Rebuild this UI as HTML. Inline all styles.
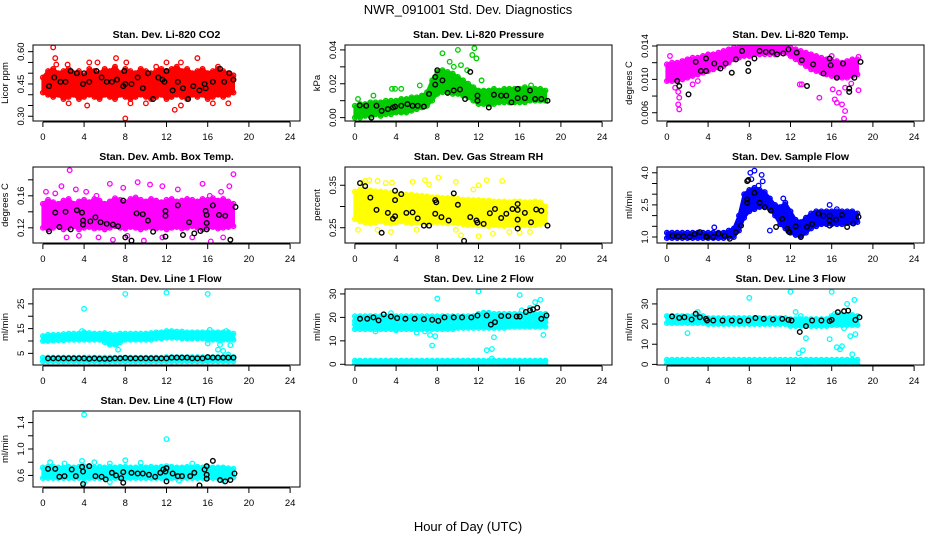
<!DOCTYPE html>
<html><head><meta charset="utf-8">
<style>
body{margin:0;background:#fff;}
svg{display:block;font-family:"Liberation Sans",sans-serif;}
</style></head>
<body>
<svg id="chart" width="936" height="540" viewBox="0 0 936 540">
<rect width="936" height="540" fill="#fff"/>
<text x="468" y="14" font-size="13" text-anchor="middle">NWR_091001  Std. Dev. Diagnostics</text>
<text x="468" y="531" font-size="13" text-anchor="middle">Hour of Day (UTC)</text>
</svg>
<script>
const H=[0,0.5,1,1.5,2,2.5,3,3.5,4,4.5,5,5.5,6,6.5,7,7.5,8,8.5,9,9.5,10,10.5,11,11.5,12,12.5,13,13.5,14,14.5,15,15.5,16,16.5,17,17.5,18,18.5];
const xTicks=[0,4,8,12,16,20,24];

// Panel 1: CO2
const lo1=[0.41,0.40,0.39,0.40,0.38,0.39,0.40,0.38,0.39,0.40,0.39,0.38,0.40,0.39,0.38,0.40,0.39,0.38,0.39,0.40,0.39,0.38,0.39,0.40,0.38,0.39,0.40,0.39,0.38,0.40,0.39,0.40,0.38,0.39,0.40,0.39,0.40,0.41];
const hi1=[0.48,0.51,0.52,0.50,0.51,0.52,0.50,0.51,0.49,0.52,0.51,0.50,0.52,0.51,0.53,0.50,0.52,0.51,0.50,0.52,0.51,0.50,0.51,0.52,0.51,0.52,0.53,0.51,0.52,0.50,0.51,0.52,0.50,0.51,0.52,0.51,0.50,0.49];
const ox1=[1,1.2,1.3,2.4,4.5,5.3,7.1,8.1,8,12.8,13.4,15,12,2.5,4.3,8.5,10,13.4,16.5,18,11,17];
const oy1=[0.62,0.57,0.54,0.54,0.55,0.55,0.57,0.55,0.29,0.33,0.55,0.57,0.55,0.36,0.35,0.36,0.36,0.35,0.36,0.36,0.53,0.53];
const bx1=[0.6,1.1,1.7,2.2,2.7,3.3,3.9,4.0,4.5,5.2,5.7,6.2,6.7,7.2,7.8,7.9,8.0,8.6,9.2,9.7,10.2,10.7,11.2,11.6,11.8,12.0,12.6,13.1,13.6,14.1,14.6,15.2,15.7,15.8,16.5,17.2,17.6,18.1,18.5];
const by1=[0.44,0.48,0.46,0.46,0.51,0.50,0.45,0.50,0.46,0.51,0.48,0.46,0.46,0.47,0.44,0.51,0.45,0.45,0.48,0.43,0.50,0.38,0.48,0.47,0.46,0.51,0.42,0.46,0.43,0.38,0.44,0.42,0.45,0.43,0.46,0.52,0.46,0.50,0.47];

// Panel 2: Pressure
const lo2=[0.000,0.000,0.001,0.001,0.002,0.001,0.002,0.002,0.003,0.003,0.003,0.004,0.005,0.006,0.007,0.010,0.014,0.015,0.015,0.014,0.014,0.013,0.012,0.010,0.008,0.008,0.008,0.008,0.009,0.009,0.009,0.009,0.009,0.009,0.010,0.010,0.010,0.010];
const hi2=[0.007,0.008,0.008,0.009,0.009,0.009,0.010,0.010,0.010,0.011,0.011,0.012,0.012,0.013,0.015,0.022,0.027,0.028,0.027,0.026,0.024,0.022,0.020,0.018,0.016,0.016,0.016,0.017,0.016,0.017,0.017,0.017,0.017,0.018,0.017,0.017,0.017,0.016];
const ox2=[0.3,1.8,3.6,3.9,4.5,6.3,7.5,7.8,8.1,8.5,9.2,10.0,10.3,11.4,11.6,11.8,12.3,9.6,10.9,17.1];
const oy2=[0.011,0.013,0.017,0.017,0.017,0.019,0.020,0.024,0.027,0.038,0.033,0.040,0.031,0.037,0.041,0.035,0.022,0.030,0.028,0.019];
const bx2=[0.47,1.1,1.6,2.1,2.6,3.2,3.7,3.9,4.5,5.1,5.6,6.1,6.7,7.2,7.8,7.8,8.0,8.5,9.0,9.6,10.2,10.7,11.2,11.9,11.9,13.0,13.5,14.2,14.7,15.2,15.8,15.8,16.5,17.0,17.5,18.1,18.7];
const by2=[0.0072,0.007,0.000,0.007,0.004,0.005,0.006,0.0065,0.007,0.008,0.007,0.007,0.0065,0.014,0.024,0.0195,0.028,0.022,0.0146,0.016,0.0166,0.011,0.027,0.013,0.010,0.006,0.0135,0.013,0.013,0.009,0.017,0.0115,0.0115,0.016,0.011,0.011,0.010];

// Panel 3: Li-820 Temp
const lo3=[0.0098,0.0098,0.0100,0.0100,0.0102,0.0104,0.0106,0.0108,0.0110,0.0112,0.0114,0.0116,0.0120,0.0124,0.0126,0.0128,0.0128,0.0130,0.0130,0.0130,0.0130,0.0130,0.0132,0.0132,0.0128,0.0124,0.0120,0.0116,0.0112,0.0110,0.0108,0.0106,0.0104,0.0102,0.0102,0.0102,0.0104,0.0106];
const hi3=[0.0118,0.0120,0.0120,0.0122,0.0124,0.0126,0.0126,0.0128,0.0130,0.0130,0.0132,0.0134,0.0136,0.0138,0.0138,0.0140,0.0140,0.0140,0.0140,0.0140,0.0140,0.0140,0.0140,0.0140,0.0138,0.0136,0.0134,0.0132,0.0130,0.0128,0.0126,0.0124,0.0122,0.0122,0.0120,0.0122,0.0124,0.0124];
const ox3=[0.3,1.1,1.2,1.1,1.2,0.8,2.5,3.0,4.0,12.9,13.1,14.8,16.1,16.3,16.7,17.0,17.3,16.5,17.3,17.2,17.9,18.6,18.6,16.0,15.8];
const oy3=[0.0128,0.0085,0.0078,0.0070,0.0064,0.0090,0.0094,0.0098,0.0120,0.0094,0.0094,0.0078,0.0088,0.0076,0.0084,0.0070,0.0090,0.0072,0.0062,0.0053,0.0095,0.0127,0.0087,0.0128,0.0118];
const bx3=[1.0,1.2,2.1,2.8,3.3,3.8,3.8,4.6,5.2,5.7,6.3,6.7,7.3,7.9,7.9,8.5,9.0,9.6,10.2,10.7,11.3,11.8,12.6,13.1,13.6,14.2,15.2,15.8,15.9,16.5,17.1,17.7,17.7,18.2,18.8];
const by3=[0.0098,0.0092,0.0082,0.0121,0.0110,0.0125,0.0110,0.0119,0.0113,0.0119,0.0108,0.0124,0.0134,0.0119,0.0110,0.0125,0.0134,0.0133,0.0133,0.0130,0.0131,0.0136,0.0132,0.0123,0.0092,0.0118,0.0107,0.0125,0.0117,0.0102,0.0119,0.0089,0.0085,0.0102,0.0121];

// Panel 4: Amb. Box Temp
const lo4=[0.120,0.118,0.120,0.122,0.118,0.120,0.122,0.118,0.120,0.121,0.119,0.120,0.118,0.120,0.122,0.120,0.119,0.121,0.120,0.118,0.120,0.121,0.119,0.120,0.118,0.120,0.121,0.119,0.120,0.122,0.120,0.118,0.120,0.121,0.119,0.120,0.121,0.122];
const hi4=[0.150,0.155,0.152,0.150,0.154,0.156,0.150,0.153,0.155,0.152,0.156,0.154,0.150,0.153,0.157,0.155,0.152,0.156,0.158,0.155,0.153,0.156,0.154,0.152,0.155,0.156,0.153,0.154,0.156,0.155,0.153,0.156,0.155,0.157,0.154,0.156,0.153,0.150];
const ox4=[0.3,1.2,2.6,1.8,3.2,4.2,5.2,6.5,7.8,9.2,10.4,11.6,13.1,15.5,16.2,18.1,18.5,17.3,3.5,5.4,6.8,8.2,9.8,11.6,14.5,16.3,17.5,2.3];
const oy4=[0.165,0.163,0.192,0.172,0.168,0.165,0.160,0.175,0.170,0.177,0.174,0.172,0.168,0.175,0.160,0.172,0.187,0.165,0.110,0.108,0.105,0.110,0.104,0.108,0.108,0.103,0.108,0.108];
const bx4=[0.6,1.2,1.6,2.2,2.7,3.3,3.8,3.9,3.9,4.6,5.1,5.6,6.2,6.8,7.3,7.8,8.0,8.6,9.1,9.7,10.2,10.7,11.9,11.9,11.9,13.1,13.6,14.2,14.7,15.3,15.8,15.9,15.9,15.9,16.5,17.1,17.7,18.2,18.7];
const by4=[0.1155,0.139,0.121,0.140,0.118,0.142,0.139,0.129,0.124,0.128,0.133,0.127,0.125,0.124,0.122,0.154,0.108,0.104,0.138,0.137,0.129,0.115,0.141,0.135,0.109,0.148,0.111,0.127,0.113,0.116,0.141,0.136,0.126,0.118,0.148,0.136,0.135,0.105,0.146];

// Panel 5: Gas Stream RH
const lo5=[0.270,0.265,0.262,0.260,0.262,0.265,0.262,0.260,0.262,0.265,0.262,0.260,0.262,0.262,0.260,0.262,0.263,0.262,0.260,0.262,0.260,0.258,0.256,0.258,0.256,0.255,0.254,0.256,0.255,0.254,0.256,0.255,0.254,0.256,0.255,0.256,0.258,0.260];
const hi5=[0.335,0.340,0.340,0.338,0.336,0.335,0.334,0.332,0.330,0.330,0.328,0.328,0.326,0.325,0.324,0.322,0.322,0.320,0.320,0.320,0.318,0.316,0.316,0.315,0.315,0.314,0.314,0.312,0.312,0.312,0.310,0.312,0.312,0.310,0.310,0.312,0.310,0.300];
const ox5=[0.3,0.8,1.0,1.4,2.2,3.0,3.6,5.6,6.8,7.2,8.1,9.8,12.0,12.8,14.3,11.5,2.2,3.5,6.0,9.8,10.3,13.4,15.0,16.0,17.0,12.0,18.5];
const oy5=[0.245,0.355,0.360,0.362,0.360,0.355,0.356,0.358,0.362,0.352,0.368,0.358,0.350,0.362,0.360,0.340,0.245,0.240,0.245,0.245,0.232,0.236,0.240,0.238,0.240,0.230,0.285];
const bx5=[0.5,1.0,1.5,2.1,2.6,3.2,3.7,3.9,3.9,3.9,4.5,5.0,5.6,6.1,6.7,7.2,7.8,7.8,7.9,8.4,9.1,9.6,10.0,10.6,11.2,11.8,11.9,12.5,13.1,13.6,14.2,14.7,15.3,15.8,15.8,15.8,15.8,16.5,17.1,17.6,18.1,18.7];
const by5=[0.355,0.348,0.321,0.292,0.238,0.285,0.271,0.277,0.337,0.315,0.329,0.285,0.286,0.272,0.255,0.255,0.315,0.283,0.310,0.275,0.267,0.331,0.304,0.219,0.275,0.267,0.262,0.259,0.284,0.294,0.273,0.283,0.294,0.292,0.306,0.269,0.248,0.285,0.263,0.293,0.290,0.255];

// Panel 6: Sample Flow
const lo6=[0.95,0.95,0.95,0.95,0.95,0.95,0.95,0.95,0.95,0.95,0.95,0.95,1.00,1.00,1.30,1.90,2.20,2.30,2.40,2.40,2.30,2.00,1.60,1.40,1.20,1.10,1.00,1.20,1.40,1.50,1.60,1.60,1.60,1.60,1.60,1.65,1.65,1.70];
const hi6=[1.20,1.20,1.20,1.20,1.20,1.20,1.20,1.20,1.20,1.20,1.20,1.20,1.30,1.40,2.00,3.00,3.20,3.30,3.20,3.10,2.80,2.50,2.40,2.60,2.20,1.80,1.70,1.90,2.10,2.20,2.20,2.20,2.20,2.20,2.20,2.20,2.20,2.10];
const ox6=[8.1,8.5,8.2,9.2,9.3,8.9,7.8,11.3,15.8,4.6,16.5,10.0,12.5];
const oy6=[4.0,4.1,3.7,3.9,3.6,3.4,2.8,2.8,2.5,1.45,2.3,1.3,1.1];
const bx6=[0.55,1.1,1.6,2.2,2.7,3.2,3.8,3.9,4.5,5.0,5.6,6.1,6.7,7.2,7.8,7.8,7.8,7.9,8.5,9.0,9.5,10.1,10.6,11.2,11.7,11.8,11.9,12.5,13.0,13.6,14.1,14.7,15.2,15.8,15.8,15.8,16.4,17.0,17.5,18.1,18.6];
const by6=[1.06,1.03,1.03,1.0,1.14,1.23,1.03,1.0,1.0,1.16,1.06,0.92,1.22,1.53,2.75,2.6,3.61,3.66,3.06,2.6,2.39,2.23,1.47,1.84,1.38,1.27,1.22,1.5,1.0,1.47,1.61,2.09,2.0,2.0,1.78,1.53,1.81,2.03,1.47,1.63,1.94];

// Panel 7: Line 1 Flow
const lo7=[10.0,10.0,10.2,10.3,10.3,10.5,10.5,10.5,10.5,10.5,10.5,10.5,9.5,8.5,8.5,9.5,10.5,10.5,10.5,10.5,10.5,10.5,11.0,11.0,11.3,11.3,11.3,11.0,11.0,11.0,11.0,11.0,10.5,10.5,10.5,10.5,10.5,10.5];
const hi7=[12.0,12.5,12.5,12.5,12.8,13.0,13.0,13.0,13.5,13.2,13.0,13.0,13.2,12.8,12.5,13.0,13.0,13.0,13.0,13.0,13.0,13.2,13.5,13.5,14.0,14.0,13.8,13.8,13.5,13.5,13.5,13.5,13.5,13.5,13.5,13.5,13.5,13.0];
const lo7b=[1.8,1.8,1.8,1.8,1.8,1.8,1.8,1.8,1.8,1.8,1.8,1.8,1.8,1.8,1.8,1.8,1.8,1.8,1.8,1.8,1.8,1.8,1.8,1.8,1.8,1.8,1.8,1.8,1.8,1.8,1.8,1.8,1.8,1.8,1.8,1.8,1.8,1.8];
const hi7b=[3.3,3.3,3.3,3.3,3.3,3.3,3.3,3.3,3.3,3.3,3.3,3.3,3.3,3.3,3.3,3.3,3.3,3.3,3.3,3.3,3.3,3.3,3.3,3.3,3.5,3.5,3.5,3.5,3.5,3.5,3.5,3.5,3.5,3.5,3.5,3.5,3.5,3.5];
const ox7=[4,8,12,16,7.3,7.1,6.8,16.0,17.0,17.2,17.5,18,18.2,17.8,16.2,3.8];
const oy7=[23.0,29.0,29.5,29.0,6.5,8.5,9.5,9.0,6.5,8.5,6.0,4.5,8.3,14.0,14.5,14.0];
const bx7=[0.5,1,1.5,2,2.5,3,3.5,4,4.5,5,5.5,6,6.5,7,7.5,8,8.5,9,9.5,10,10.5,11,11.5,12,12.5,13,13.5,14,14.5,15,15.5,16,16.5,17,17.5,18,18.5];
const by7=[3,3,3,3,3,3,3,3,2.8,3,2.8,2.8,2.8,3,3,3.2,3,3,3,3,3,3,3,3,3.3,3.3,3.3,3.3,3,3,3,3.5,3.3,3.3,3.3,3.3,3.3];

// Panel 8: Line 2 Flow
const lo8a=[18.5,18.5,18.5,18.5,18.5,18.5,18.5,18.5,18.5,18.5,18.5,18.5,18.5,18.5,18.5,18.5,18.5,18.5,18.5,18.5,18.5,18.5,18.5,18.5,19,19,19,19,19,19,19.5,19.5,19.5,19.5,19.5,19.5,19.5,19.5];
const hi8a=[20.5,20.5,20.5,20.5,20.5,20.5,20.5,20.5,20.5,20.5,20.5,20.5,20.5,20.5,20.5,20.5,20.5,20.5,20.5,20.5,20.5,20.5,20.5,20.5,21.5,21.5,21.5,21.5,21.5,21.5,21.5,21.5,21.5,21.5,21.5,21.5,21.5,21.5];
const lo8b=[15,15,15,15,15,15,15,15,15,15,15,15,15,15,15,15,15,15,15,15,15.5,15.5,15.5,15.5,15.5,15.5,15.5,15.5,15.5,15.5,16,16,16,16,16,16,16,16];
const hi8b=[17,17,17,17,17,17,17,17,17,17,17,17,17,17,17,17,17,17,17,17,17.5,17.5,17.5,17.5,17.5,17.5,17.5,17.5,17.5,17.5,18,18,18,18,18,18,18,18];
const lo8c=[0.2,0.2,0.2,0.2,0.2,0.2,0.2,0.2,0.2,0.2,0.2,0.2,0.2,0.2,0.2,0.2,0.2,0.2,0.2,0.2,0.2,0.2,0.2,0.2,0.2,0.2,0.2,0.2,0.2,0.2,0.2,0.2,0.2,0.2,0.2,0.2,0.2,0.2];
const hi8c=[1.6,1.6,1.6,1.6,1.6,1.6,1.6,1.6,1.6,1.6,1.6,1.6,1.6,1.6,1.6,1.6,1.6,1.6,1.6,1.6,1.6,1.6,1.6,1.6,1.6,1.6,1.6,1.6,1.6,1.6,1.6,1.6,1.6,1.6,1.6,1.6,1.6,1.6];
const ox8=[3.5,8,12,16,18,17.5,17,18.3,7.5,7.3,7.8,6,6.8,2,4,12.8,13.3,13.5,16.2,12.5,13,13.3];
const oy8=[21.8,28,31,29.5,27.5,26.5,24,12.5,8,12.5,12,13.5,14,14,14.5,6,6.5,11.5,23,22,22,2.5];
const bx8=[0.5,1.2,1.8,2.3,2.8,3.5,4.1,4.9,5.8,6.7,7.5,8.1,8.7,9.6,10.4,11.3,11.9,12.8,13.2,13.6,14.2,14.9,15.7,16.0,16.6,17.0,17.3,17.7,18.1,18.6];
const by8=[19.4,19.4,20,18.7,21.3,20.4,19.7,19.4,19.4,19.2,19.0,18.5,20,20,20,20,20.8,20.8,16.9,18.0,20.6,20.6,20.4,20.4,22.3,23.0,23.4,24.1,19.4,20.8];

// Panel 9: Line 3 Flow
const lo9a=[20.5,20.5,20.5,20.5,20.5,20.5,20.5,20.5,20,20,20,20,20,20,20,20,20,20,20,20,20,20,20,20,19,19,19,19,19,19,19,19,19.5,19.5,19.5,19.5,19.5,19.5];
const hi9a=[24,24,24,24,24,24,24,24,23,23,23,23,23,23,23,23,23,23,23,23,23,23,23,23,22.5,22.5,22.5,22.5,22.5,22.5,22.5,22.5,24,24.5,24.5,24.5,24.5,24];
const lo9c=[0.2,0.2,0.2,0.2,0.2,0.2,0.2,0.2,0.2,0.2,0.2,0.2,0.2,0.2,0.2,0.2,0.2,0.2,0.2,0.2,0.2,0.2,0.2,0.2,0.2,0.2,0.2,0.2,0.2,0.2,0.2,0.2,0.2,0.2,0.2,0.2,0.2,0.2];
const hi9c=[2.3,2.3,2.3,2.3,2.3,2.3,2.3,2.3,2.3,2.3,2.3,2.3,2.3,2.3,2.3,2.3,2.3,2.3,2.3,2.3,2.3,2.3,2.3,2.3,2.3,2.3,2.3,2.3,2.3,2.3,2.3,2.3,2.3,2.3,2.3,2.3,2.3,2.3];
const ox9=[2,8,12,16,12.5,12.8,13.2,13.5,15.8,16.5,16.8,17,17.2,17.5,17.3,17.8,18.2,18.3,18,16.3,13,3];
const oy9=[15.5,33,36,36,26,5.5,7,13,12.5,8.5,7.5,9,18,30,20,14,32,15,5,25,24,26];
const bx9=[0.5,1.2,1.7,2.4,2.8,3.2,3.8,3.9,4.5,5.4,6.3,7.1,7.9,8.6,9.4,10.3,11.2,11.8,12.1,12.9,13.5,14.1,15.0,15.8,16.0,16.6,17.2,17.6,18.3,18.7];
const by9=[23.8,23.1,23.4,22.3,25.1,23.4,22.6,21.8,21.8,21.8,21.8,21.5,21.8,23,22.6,22.3,22.6,22.1,21.8,16.1,19.0,21.8,21.8,21.5,22.1,25.9,26.4,26.7,22.1,23.4];

// Panel 10: Line 4 (LT) Flow
const lo10=[0.56,0.56,0.56,0.56,0.56,0.56,0.56,0.56,0.56,0.56,0.56,0.56,0.56,0.56,0.56,0.56,0.56,0.56,0.56,0.56,0.56,0.56,0.56,0.56,0.56,0.56,0.56,0.56,0.56,0.56,0.56,0.56,0.56,0.56,0.56,0.56,0.56,0.57];
const hi10=[0.72,0.73,0.73,0.72,0.72,0.73,0.72,0.73,0.74,0.73,0.72,0.73,0.72,0.73,0.72,0.73,0.73,0.72,0.72,0.73,0.72,0.73,0.72,0.73,0.74,0.73,0.72,0.72,0.73,0.72,0.73,0.72,0.73,0.72,0.72,0.72,0.71,0.70];
const ox10=[4,12,0.7,2.1,3.8,5,8,6.5,9.5,4,6.5,13.2,17.5,14.5];
const oy10=[1.52,1.15,0.80,0.78,0.82,0.80,0.83,0.78,0.79,0.50,0.50,0.52,0.52,0.78];
const bx10=[0.5,1.2,1.6,2.1,2.8,3.2,3.8,3.9,3.9,4.5,5.1,5.7,6.1,6.7,7.1,7.6,7.8,7.8,8.6,9.2,9.7,10.3,10.9,11.4,11.7,11.9,12.0,12.0,12.6,13.1,13.5,14.3,14.7,15.2,15.7,15.9,15.9,15.9,16.5,17.2,17.7,18.2,18.6];
const by10=[0.70,0.70,0.58,0.59,0.69,0.59,0.73,0.66,0.47,0.74,0.59,0.58,0.54,0.64,0.60,0.56,0.65,0.49,0.64,0.63,0.63,0.61,0.58,0.64,0.69,0.66,0.71,0.51,0.63,0.59,0.59,0.59,0.64,0.45,0.69,0.74,0.61,0.55,0.82,0.53,0.51,0.53,0.63];

const panels=[
 {name:'co2',title:'Stan. Dev. Li-820 CO2',ylab:'Licor ppm',col:0,row:0,ylim:[0.278,0.631],ticks:[0.30,0.35,0.40,0.45,0.50,0.55,0.60],labels:['0.30','0.45','0.60'],labelVals:[0.30,0.45,0.60],color:'#ff0000',bands:[[lo1,hi1]],ox:ox1,oy:oy1,bx:bx1,by:by1},
 {name:'pressure',title:'Stan. Dev. Li-820 Pressure',ylab:'kPa',col:1,row:0,ylim:[-0.002,0.0429],ticks:[0,0.01,0.02,0.03,0.04],labels:['0.00','0.02','0.04'],labelVals:[0,0.02,0.04],color:'#00cc00',bands:[[lo2,hi2]],ox:ox2,oy:oy2,bx:bx2,by:by2},
 {name:'li820-temp',title:'Stan. Dev. Li-820 Temp.',ylab:'degrees C',col:2,row:0,ylim:[0.00501,0.01412],ticks:[0.006,0.008,0.010,0.012,0.014],labels:['0.006','0.010','0.014'],labelVals:[0.006,0.010,0.014],color:'#ff00ff',bands:[[lo3,hi3]],ox:ox3,oy:oy3,bx:bx3,by:by3},
 {name:'amb-box-temp',title:'Stan. Dev. Amb. Box Temp.',ylab:'degrees C',col:0,row:1,ylim:[0.101,0.196],ticks:[0.12,0.14,0.16,0.18],labels:['0.12','0.16'],labelVals:[0.12,0.16],color:'#ff00ff',bands:[[lo4,hi4]],ox:ox4,oy:oy4,bx:bx4,by:by4},
 {name:'gas-stream-rh',title:'Stan. Dev. Gas Stream RH',ylab:'percent',col:1,row:1,ylim:[0.214,0.393],ticks:[0.25,0.30,0.35],labels:['0.25','0.35'],labelVals:[0.25,0.35],color:'#ffff00',bands:[[lo5,hi5]],ox:ox5,oy:oy5,bx:bx5,by:by5},
 {name:'sample-flow',title:'Stan. Dev. Sample Flow',ylab:'ml/min',col:2,row:1,ylim:[0.72,4.27],ticks:[1,1.5,2,2.5,3,3.5,4],labels:['1.0','2.5','4.0'],labelVals:[1,2.5,4],color:'#0000ff',bands:[[lo6,hi6]],ox:ox6,oy:oy6,bx:bx6,by:by6},
 {name:'line1-flow',title:'Stan. Dev. Line 1 Flow',ylab:'ml/min',col:0,row:2,ylim:[0.3,31],ticks:[5,10,15,20,25],labels:['5','15','25'],labelVals:[5,15,25],color:'#00ffff',bands:[[lo7,hi7],[lo7b,hi7b]],ox:ox7,oy:oy7,bx:bx7,by:by7},
 {name:'line2-flow',title:'Stan. Dev. Line 2 Flow',ylab:'ml/min',col:1,row:2,ylim:[-0.3,32.1],ticks:[0,10,20,30],labels:['0','10','20','30'],labelVals:[0,10,20,30],color:'#00ffff',bands:[[lo8a,hi8a],[lo8b,hi8b],[lo8c,hi8c]],ox:ox8,oy:oy8,bx:bx8,by:by8},
 {name:'line3-flow',title:'Stan. Dev. Line 3 Flow',ylab:'ml/min',col:2,row:2,ylim:[-0.3,37.4],ticks:[0,10,20,30],labels:['0','10','20','30'],labelVals:[0,10,20,30],color:'#00ffff',bands:[[lo9a,hi9a],[lo9c,hi9c]],ox:ox9,oy:oy9,bx:bx9,by:by9},
 {name:'line4-flow',title:'Stan. Dev. Line 4 (LT) Flow',ylab:'ml/min',col:0,row:3,ylim:[0.425,1.575],ticks:[0.6,0.8,1.0,1.2,1.4],labels:['0.6','1.0','1.4'],labelVals:[0.6,1.0,1.4],color:'#00ffff',bands:[[lo10,hi10]],ox:ox10,oy:oy10,bx:bx10,by:by10}
];

const NS='http://www.w3.org/2000/svg';
const svg=document.getElementById('chart');
function mk(tag,attrs,parent){const e=document.createElementNS(NS,tag);for(const k in attrs)e.setAttribute(k,attrs[k]);(parent||svg).appendChild(e);return e;}

panels.forEach((p,i)=>{
 const L=33+312*p.col, T=45+122*p.row, W=267, Hh=76;
 const xs=h=>L+(h+0.96)/25.92*W;
 const ys=v=>T+Hh-(v-p.ylim[0])/(p.ylim[1]-p.ylim[0])*Hh;
 const g=mk('g',{});
 
 
 const cp=mk('clipPath',{id:'cp'+i},g);
 mk('rect',{x:L,y:T,width:W,height:Hh},cp);
 const t=mk('text',{x:L+W/2,y:T-7,'font-size':'10.5','font-weight':'bold','text-anchor':'middle'},g);
 t.textContent=p.title;
 
 
 const yl=mk('text',{transform:`translate(${L-25},${T+Hh/2}) rotate(-90)`,'font-size':'9.5','text-anchor':'middle'},g);
 yl.textContent=p.ylab;
 
 
 const dg=mk('g',{'clip-path':`url(#cp${i})`},g);
 
 
 p.bands.forEach(b=>{
  const lo=b[0],hi=b[1];
  let d='M'+H.map((h,j)=>xs(h).toFixed(1)+','+ys(hi[j]).toFixed(1)).join('L');
  d+='L'+H.map((h,j)=>xs(h).toFixed(1)+','+ys(lo[j]).toFixed(1)).reverse().join('L')+'Z';
  const band=mk('path',{d:d,fill:p.color,stroke:p.color,'stroke-width':3,'stroke-linejoin':'round'},dg);
  
  
  H.forEach((h,j)=>{
   [lo[j],hi[j]].forEach(v=>{
    const c=mk('circle',{cx:xs(h),cy:ys(v),r:2.3,fill:'none',stroke:p.color,'stroke-width':1.3},dg);
    
    
   });
  });
 });
 p.ox.forEach((h,j)=>{
  const c=mk('circle',{cx:xs(h),cy:ys(p.oy[j]),r:2.3,fill:'none',stroke:p.color,'stroke-width':1.3},dg);
  
  
 });
 p.bx.forEach((h,j)=>{
  const c=mk('circle',{cx:xs(h),cy:ys(p.by[j]),r:2.3,fill:'none',stroke:'#000','stroke-width':1.4},dg);
  
  
 });
 const box=mk('rect',{x:L,y:T,width:W,height:Hh,fill:'none',stroke:'#000','stroke-width':1},g);
 
 
 mk('line',{x1:xs(0),x2:xs(24),y1:T+Hh+1,y2:T+Hh+1,stroke:'#000'},g);
 xTicks.forEach(h=>{
  mk('line',{x1:xs(h),x2:xs(h),y1:T+Hh+1,y2:T+Hh+6,stroke:'#000'},g);
  const tl=mk('text',{x:xs(h),y:T+Hh+19,'font-size':'9.5','text-anchor':'middle'},g);
  tl.textContent=h;
  
  
 });
 p.ticks.forEach(v=>{mk('line',{x1:L-5,x2:L,y1:ys(v),y2:ys(v),stroke:'#000'},g);});
 p.labelVals.forEach((v,j)=>{
  const tl=mk('text',{transform:`translate(${L-9},${ys(v)}) rotate(-90)`,'font-size':'9.5','text-anchor':'middle'},g);
  tl.textContent=p.labels[j];
  
  
 });
});
</script>
</body></html>
